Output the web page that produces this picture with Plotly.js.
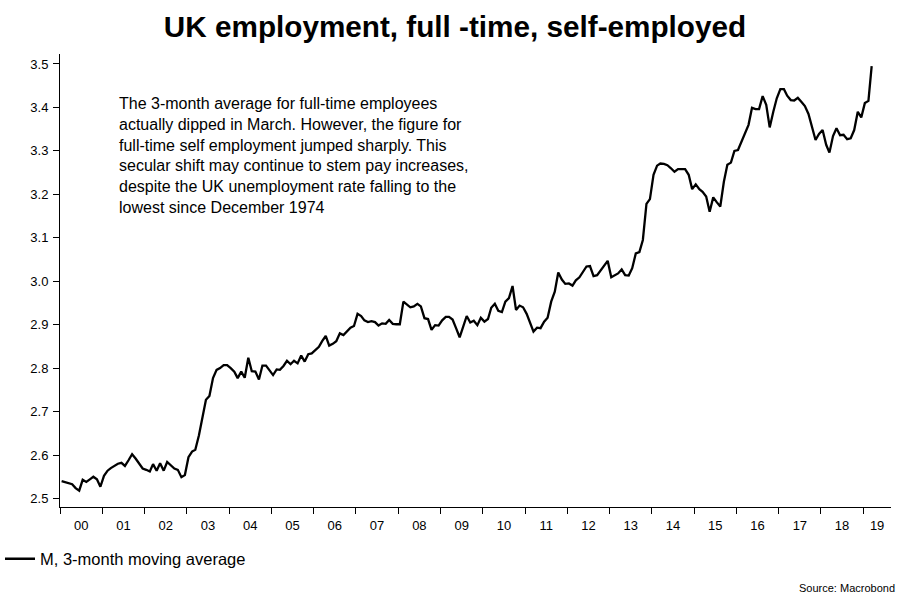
<!DOCTYPE html>
<html>
<head>
<meta charset="utf-8">
<script src="https://cdn.plot.ly/plotly-3.0.1.min.js"></script>
<style>
html,body{margin:0;padding:0;background:#ffffff;}
#chart{width:910px;height:607px;}
</style>
</head>
<body>
<div id="chart"></div>
<script>
// Monthly values, 3-month moving average (millions), Jan 2000 - Mar 2019
const startYear = 2000;
const y2000 = [2.540, 2.537, 2.535, 2.533, 2.524, 2.518, 2.543, 2.538, 2.544, 2.550, 2.544, 2.527];
const y2001 = [2.552, 2.564, 2.570, 2.575, 2.580, 2.582, 2.575, 2.588, 2.602, 2.592, 2.580, 2.569];
const y2002 = [2.566, 2.562, 2.579, 2.564, 2.581, 2.564, 2.584, 2.576, 2.569, 2.566, 2.549, 2.554];
const y2003 = [2.595, 2.608, 2.612, 2.645, 2.690, 2.727, 2.736, 2.777, 2.796, 2.800, 2.807, 2.807];
const y2004 = [2.800, 2.792, 2.777, 2.792, 2.778, 2.824, 2.793, 2.792, 2.774, 2.806, 2.806, 2.795];
const y2005 = [2.784, 2.797, 2.796, 2.805, 2.817, 2.809, 2.817, 2.811, 2.829, 2.815, 2.832, 2.834];
const y2006 = [2.841, 2.849, 2.862, 2.874, 2.852, 2.856, 2.862, 2.880, 2.876, 2.884, 2.893, 2.897];
const y2007 = [2.925, 2.920, 2.910, 2.906, 2.908, 2.906, 2.898, 2.903, 2.902, 2.911, 2.902, 2.901];
const y2008 = [2.901, 2.953, 2.946, 2.940, 2.942, 2.948, 2.942, 2.915, 2.913, 2.888, 2.899, 2.898];
const y2009 = [2.910, 2.918, 2.918, 2.912, 2.892, 2.871, 2.895, 2.920, 2.905, 2.909, 2.899, 2.916];
const y2010 = [2.907, 2.913, 2.939, 2.948, 2.932, 2.929, 2.953, 2.961, 2.989, 2.934, 2.944, 2.940];
const y2011 = [2.925, 2.905, 2.884, 2.893, 2.892, 2.907, 2.916, 2.953, 2.976, 3.020, 3.004, 2.994];
const y2012 = [2.995, 2.990, 3.002, 3.009, 3.020, 3.034, 3.035, 3.012, 3.014, 3.024, 3.035, 3.047];
const y2013 = [3.009, 3.013, 3.018, 3.027, 3.014, 3.013, 3.030, 3.064, 3.067, 3.095, 3.178, 3.189];
const y2014 = [3.245, 3.266, 3.271, 3.270, 3.267, 3.260, 3.252, 3.258, 3.258, 3.258, 3.245, 3.212];
const y2015 = [3.223, 3.212, 3.206, 3.195, 3.160, 3.193, 3.182, 3.172, 3.229, 3.268, 3.273, 3.300];
const y2016 = [3.302, 3.321, 3.340, 3.360, 3.399, 3.396, 3.396, 3.426, 3.406, 3.354, 3.390, 3.421];
const y2017 = [3.442, 3.442, 3.427, 3.417, 3.416, 3.422, 3.413, 3.403, 3.385, 3.355, 3.325, 3.339];
const y2018 = [3.348, 3.314, 3.296, 3.334, 3.352, 3.336, 3.337, 3.327, 3.329, 3.348, 3.390, 3.377];
const y2019 = [3.410, 3.415, 3.495];

// x-axis tick labels (two-digit years) and visible axis span
const yearLabels = ['00','01','02','03','04','05','06','07','08','09','10','11','12','13','14','15','16','17','18','19'];
const axisStart = '2000-01-01';
const axisEnd = '2019-08-29';

const seriesName = 'M, 3-month moving average';
const chartTitle = 'UK employment, full -time, self-employed';
const noteText = 'The 3-month average for full-time employees<br>actually dipped in March. However, the figure for<br>full-time self employment jumped sharply. This<br>secular shift may continue to stem pay increases,<br>despite the UK unemployment rate falling to the<br>lowest since December 1974';
const sourceText = 'Source: Macrobond';

const values = [].concat(y2000, y2001, y2002, y2003, y2004, y2005, y2006, y2007, y2008, y2009,
  y2010, y2011, y2012, y2013, y2014, y2015, y2016, y2017, y2018, y2019);
const dates = values.map(function (v, i) {
  const yr = startYear + Math.floor(i / 12);
  const mo = (i % 12) + 1;
  return yr + '-' + String(mo).padStart(2, '0') + '-15';
});

// label positions: centre of the visible part of each calendar year
const endMs = Date.parse(axisEnd + 'T00:00:00Z');
const labelVals = yearLabels.map(function (lab, i) {
  const y = startYear + i;
  const a = Date.UTC(y, 0, 1);
  const b = Math.min(Date.UTC(y + 1, 0, 1), endMs);
  return new Date((a + b) / 2).toISOString().slice(0, 19).replace('T', ' ');
});

const FONT = 'Liberation Sans, Arial, Helvetica, sans-serif';

const trace = {
  type: 'scatter',
  mode: 'lines',
  x: dates,
  y: values,
  name: seriesName,
  line: {color: '#000000', width: 2.3},
  hoverinfo: 'x+y'
};

const layout = {
  width: 910,
  height: 607,
  margin: {l: 60, r: 19, t: 54, b: 100, pad: 0, autoexpand: false},
  paper_bgcolor: '#ffffff',
  plot_bgcolor: '#ffffff',
  font: {family: FONT, color: '#000000', size: 13},
  title: {
    text: '<b>' + chartTitle + '</b>',
    font: {family: FONT, size: 29.7, color: '#000000'},
    x: 0.5, xref: 'container', xanchor: 'center',
    y: 1 - 27 / 607, yref: 'container', yanchor: 'middle'
  },
  xaxis: {
    type: 'date',
    range: [axisStart, axisEnd],
    tickmode: 'array',
    tickvals: labelVals,
    ticktext: yearLabels,
    ticks: '',
    ticklabelstandoff: 6,
    minor: {
      ticks: 'outside',
      ticklen: 6,
      tickwidth: 1,
      tickcolor: '#000000',
      tick0: axisStart,
      dtick: 'M12',
      showgrid: false
    },
    showline: true,
    linecolor: '#000000',
    linewidth: 1,
    showgrid: false,
    zeroline: false,
    automargin: false,
    tickfont: {family: FONT, size: 13, color: '#000000'},
    fixedrange: true
  },
  yaxis: {
    range: [2.4804, 3.523],
    tick0: 2.5,
    dtick: 0.1,
    tickformat: '.1f',
    ticks: 'outside',
    ticklen: 6,
    tickwidth: 1,
    tickcolor: '#000000',
    ticklabelstandoff: 2,
    showline: true,
    linecolor: '#000000',
    linewidth: 1,
    showgrid: false,
    zeroline: false,
    automargin: false,
    tickfont: {family: FONT, size: 13, color: '#000000'},
    fixedrange: true
  },
  showlegend: true,
  legend: {
    xref: 'container',
    yref: 'container',
    x: -2 / 910,
    xanchor: 'left',
    y: 1 - 559 / 607,
    yanchor: 'middle',
    orientation: 'h',
    bgcolor: 'rgba(0,0,0,0)',
    borderwidth: 0,
    font: {family: FONT, size: 16.5, color: '#000000'}
  },
  annotations: [
    {
      text: noteText,
      xref: 'paper', yref: 'paper',
      x: (117 - 60) / 830.7, y: (507 - 93) / 453,
      xanchor: 'left', yanchor: 'top',
      align: 'left',
      showarrow: false,
      font: {family: FONT, size: 16, color: '#000000'}
    },
    {
      text: sourceText,
      xref: 'paper', yref: 'paper',
      x: (897 - 60) / 830.7, y: (507 - 588) / 453,
      xanchor: 'right', yanchor: 'middle',
      showarrow: false,
      font: {family: FONT, size: 11, color: '#000000'}
    }
  ]
};

Plotly.newPlot('chart', [trace], layout, {displayModeBar: false, staticPlot: true});
</script>
</body>
</html>
